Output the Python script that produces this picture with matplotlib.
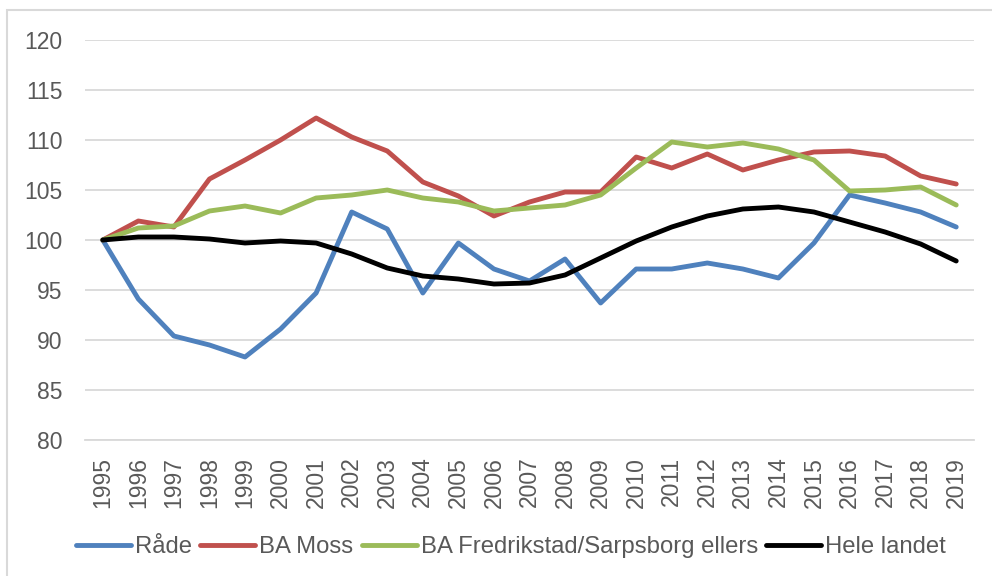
import matplotlib
matplotlib.use("Agg")
import matplotlib.pyplot as plt
from matplotlib.patches import Rectangle

years = [str(y) for y in range(1995, 2020)]
rade = [100, 94.1, 90.4, 89.5, 88.3, 91.1, 94.7, 102.8, 101.1, 94.7, 99.7, 97.1, 95.9, 98.1, 93.7,
        97.1, 97.1, 97.7, 97.1, 96.2, 99.7, 104.5, 103.7, 102.8, 101.3]
ba_moss = [100, 101.9, 101.3, 106.1, 108.0, 110.0, 112.2, 110.3, 108.9, 105.8, 104.4, 102.4, 103.8, 104.8, 104.8,
           108.3, 107.2, 108.6, 107.0, 108.0, 108.8, 108.9, 108.4, 106.4, 105.6]
ba_fred = [100, 101.2, 101.4, 102.9, 103.4, 102.7, 104.2, 104.5, 105.0, 104.2, 103.8, 102.9, 103.2, 103.5, 104.5,
           107.2, 109.8, 109.3, 109.7, 109.1, 108.0, 104.9, 105.0, 105.3, 103.5]
hele = [100, 100.3, 100.3, 100.1, 99.7, 99.9, 99.7, 98.6, 97.2, 96.4, 96.1, 95.6, 95.7, 96.5, 98.2,
        99.9, 101.3, 102.4, 103.1, 103.3, 102.8, 101.8, 100.8, 99.6, 97.9]

series = [
    ("Råde", rade, "#4F81BD"),
    ("BA Moss", ba_moss, "#C0504D"),
    ("BA Fredrikstad/Sarpsborg ellers", ba_fred, "#9BBB59"),
    ("Hele landet", hele, "#000000"),
]

plt.rcParams['font.family'] = ['Liberation Sans', 'DejaVu Sans']

W, H = 992, 576
fig = plt.figure(figsize=(W / 100, H / 100), dpi=100)
ax = fig.add_axes([85 / W, 1 - 440 / H, (974 - 85) / W, 400 / H])

x = list(range(len(years)))
for name, vals, col in series:
    ax.plot(x, vals, color=col, lw=3.5, label=name, solid_capstyle='round', solid_joinstyle='round')

ax.set_xlim(-0.5, len(years) - 0.5)
ax.set_ylim(80, 120)
ax.set_yticks(range(80, 121, 5))
ax.set_xticks(x)
ax.set_xticklabels(years, rotation=90)
ax.grid(axis='y', color='#D9D9D9', lw=1.3)
ax.set_axisbelow(True)
for s in ['top', 'right', 'left']:
    ax.spines[s].set_visible(False)
ax.spines['bottom'].set_color('#D9D9D9')
ax.spines['bottom'].set_linewidth(1.3)
ax.tick_params(axis='both', length=0, labelsize=16.5, labelcolor='#595959')
ax.tick_params(axis='y', pad=16)
ax.tick_params(axis='x', pad=12)

leg = fig.legend(loc='center', bbox_to_anchor=(511 / W, 1 - 547 / H), ncol=4, frameon=False,
                 fontsize=17.2, handlelength=2.3, handletextpad=0.17, columnspacing=0.35,
                 borderpad=0, labelcolor='#595959')

fig.patches.append(Rectangle((7 / W, -0.1), 1.2, 1 - 10 / H + 0.1, transform=fig.transFigure,
                             fill=False, edgecolor='#D9D9D9', lw=1.5))

fig.savefig("out.png", dpi=100)
